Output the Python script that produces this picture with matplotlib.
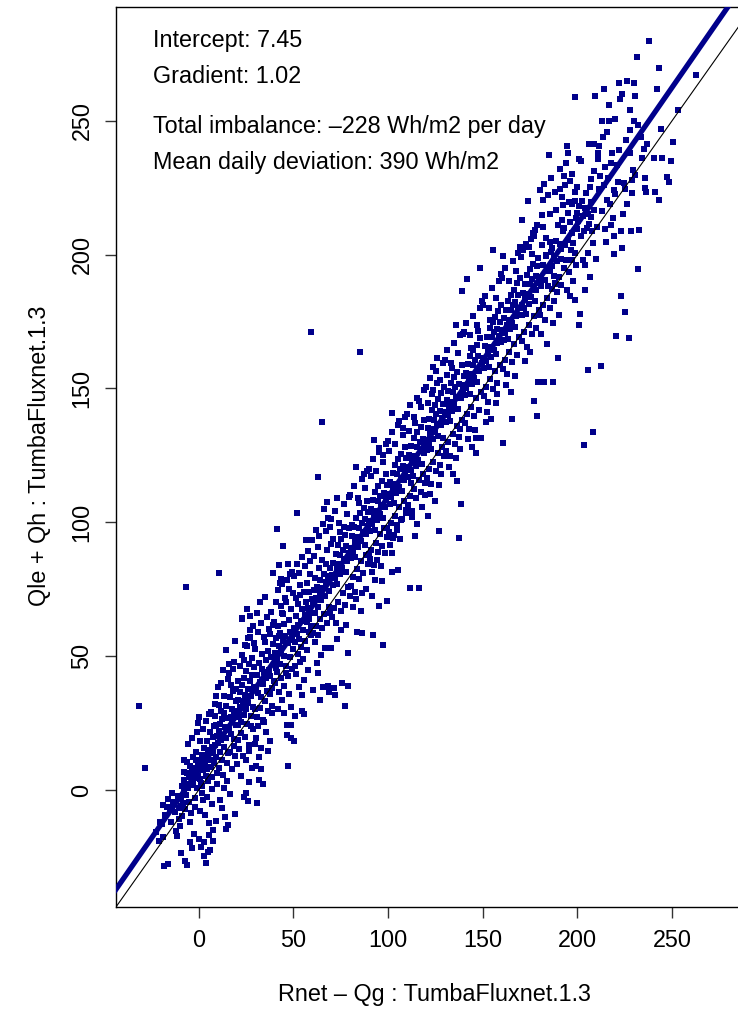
import numpy as np
import matplotlib.pyplot as plt

plt.rcParams['font.family'] = ['Liberation Sans', 'DejaVu Sans']

# regression summary
intercept = 7.45
gradient = 1.02
imbalance = -228
deviation = 390

# daily means (W/m2): available energy Rnet - Qg against turbulent flux Qle + Qh
rnet_qg_low = [
    -31.5, -28.2, -18.3, -16.0, -19.6, -17.0, -16.0, -11.5, -10.6, -22.4,
    -20.3, -19.1, -17.8, -15.2, -14.6, -13.4, -12.7, -12.1, -11.2, -10.4,
    -21.0, -14.0, -18.8,
    -9.1, -7.0, -6.2, -4.8, -2.5, -7.9, -1.5, -6.7, -9.6, -9.3,
    -8.8, -8.4, -8.0, -7.6, -7.3, -6.9, -6.5, -6.0, -5.7, -5.3,
    -5.0, -4.6, -4.2, -3.9, -3.5, -3.1, -2.8, -2.2, -1.9, -1.6,
    -1.2, -0.8, -0.5, -0.2, -9.8, -8.6, -5.5, -3.3, -1.0, -4.4,
    -2.0, -6.3, -7.8, -0.6, -3.7,
    0.2, 3.0, 4.8, 5.3, 7.5, 0.0, 5.5, 8.4, 0.4, 0.7,
    1.1, 1.4, 1.8, 2.1, 2.5, 2.8, 3.3, 3.6, 3.9, 4.3,
    4.6, 5.0, 5.8, 6.1, 6.4, 6.8, 7.1, 7.4, 7.8, 8.1,
    8.7, 9.0, 9.3, 9.6, 9.9, 0.9, 1.6, 2.3, 3.1, 4.0,
    4.9, 5.6, 6.6, 7.2, 8.0, 8.9, 9.5, 1.3, 2.7, 3.8,
    6.2, 7.7, 9.1, 0.5, 2.0, 4.4, 6.9, 8.5,
    15.7, 19.2, 14.0, 10.7, 10.2, 15.8, 14.4, 18.5, 19.3, 10.3,
    10.6, 11.0, 11.4, 11.7, 12.1, 12.4, 12.8, 13.1, 13.5, 13.8,
    14.2, 14.6, 15.0, 15.3, 16.1, 16.4, 16.8, 17.1, 17.5, 17.8,
    18.2, 18.8, 19.5, 19.8, 10.9, 11.9, 12.6, 13.3, 14.8, 15.5,
    16.6, 17.3, 18.0, 18.9, 19.6, 11.2, 12.3, 13.6, 15.1, 16.3,
    17.7, 19.0, 10.5, 13.0, 16.0, 18.4, 14.4, 11.6,
    22.9, 25.5, 27.0, 27.3, 25.4, 23.0, 20.2, 20.5, 20.9, 21.2,
    21.6, 22.0, 22.3, 22.7, 23.3, 23.7, 24.0, 24.4, 24.8, 25.1,
    25.8, 26.2, 26.5, 26.9, 27.6, 28.0, 28.3, 28.7, 29.0, 29.4,
    29.7, 20.7, 21.4, 22.5, 23.5, 24.6, 25.6, 26.7, 27.8, 28.9,
    29.9, 21.9, 23.1, 24.2, 26.0, 27.2, 28.5, 29.3, 20.1, 22.2,
    24.9, 26.4, 28.1, 29.6, 21.0, 23.9, 25.3, 27.5, 24.1, 26.8,
    25.0, 26.0,
    32.5, 35.0, 39.0, 30.8, 33.8, 32.0, 33.0, 30.2, 30.4, 30.9,
    31.3, 31.7, 32.2, 32.8, 33.3, 33.6, 34.1, 34.5, 34.9, 35.4,
    35.8, 36.2, 36.6, 37.0, 37.4, 37.8, 38.2, 38.6, 39.3, 39.7,
    30.6, 31.5, 32.6, 33.9, 35.2, 36.4, 37.6, 38.8, 39.9, 31.1,
    32.9, 34.3, 36.0, 37.2, 38.4, 39.5, 30.1, 33.1, 35.6, 37.9,
    31.9, 34.7, 36.8, 38.9, 30.7,
]
qle_qh_low = [
    31.5, 8.3, -28.4, -27.5, -12.8, -6.4, -3.2, -17.2, -10.8, -15.6,
    -12.1, -17.4, -9.2, -6.8, -11.9, -4.5, -8.3, -15.2, -2.1, -6.6,
    -19.0, -1.2, -5.5,
    -23.7, -26.5, -28.2, -19.6, -16.4, 11.2, 11.2, 75.8, -2.8, -6.1,
    1.4, -4.9, -0.3, 3.8, -7.2, 2.2, -1.7, 6.3, 0.9, -4.4,
    4.7, 9.1, -8.6, 1.8, 6.9, 3.1, 12.4, -2.9, 8.2, 4.6,
    14.1, 0.8, 9.7, 5.2, -13.3, -9.8, 17.2, 19.4, 21.8, -12.1,
    -6.4, 10.3, 6.8, 24.9, -21.5,
    -18.3, -24.7, -23.0, -16.8, -15.0, 27.3, 28.4, 32.0, 7.9, 4.2,
    10.8, 2.6, 13.1, 7.4, -3.8, 15.6, 9.2, 5.1, 12.8, 18.2,
    7.7, 14.9, 11.3, 21.5, 8.6, 16.2, 0.4, 13.7, 19.8, 10.1,
    16.9, 24.3, 12.5, 20.1, 6.2, -7.8, -1.2, 22.9, -9.5, 25.6,
    3.3, -12.4, 29.1, -5.3, 23.8, 35.0, 2.1, -21.2, -19.5, -27.1,
    -22.4, -18.9, -11.6, 18.4, 1.5, -2.6, 4.8, 27.6,
    -12.9, -9.0, -10.0, 81.0, 38.5, 43.7, 52.3, 48.0, 55.8, 17.6,
    21.9, 14.3, 24.8, 18.6, 26.4, 11.2, 20.3, 28.7, 16.1, 23.4,
    31.2, 19.5, 26.9, 13.8, 22.5, 34.6, 27.3, 20.8, 30.1, 25.7,
    36.9, 28.4, 33.2, 24.1, 8.4, 29.6, 5.7, 35.1, 10.2, 41.6,
    14.3, 39.2, 45.3, 19.1, 37.7, -3.6, -6.9, 0.8, 3.4, -1.5,
    7.9, 12.6, 31.6, 44.8, 47.2, 16.4, -14.6, 39.8,
    64.2, 67.6, 65.0, 57.0, 67.5, 64.0, 29.4, 24.1, 33.8, 27.2,
    36.5, 30.9, 25.3, 39.1, 33.4, 28.1, 41.8, 35.6, 30.2, 44.3,
    37.9, 32.4, 47.1, 40.6, 35.3, 49.2, 43.0, 31.1, 38.6, 45.9,
    52.7, 18.6, 15.2, 21.4, 12.8, 19.7, 24.5, 16.9, 27.8, 22.6,
    30.4, 46.5, 50.3, 54.2, 56.8, 59.6, 61.3, 55.0, 9.8, 5.4,
    11.3, 14.6, 8.2, 17.3, 40.9, 48.7, 53.8, 23.9, -2.5, 2.8,
    -1.0, -4.0,
    70.3, 72.2, 81.0, -4.9, 2.4, 3.7, 7.7, 9.0, 38.4, 43.1,
    36.2, 47.6, 40.3, 34.7, 45.2, 50.8, 39.5, 43.9, 55.3, 41.7,
    48.4, 36.8, 52.1, 45.0, 58.3, 42.6, 49.7, 38.1, 54.6, 47.2,
    27.3, 23.8, 30.5, 26.1, 33.2, 29.6, 35.8, 31.4, 40.7, 58.9,
    62.4, 57.0, 64.8, 60.2, 66.5, 61.7, 19.4, 15.7, 21.8, 18.3,
    12.2, 25.5, 14.6, 28.9, 66.1,
]

rnet_qg_mid = [
    42.4, 47.0, 42.9, 43.4, 48.0, 41.2, 44.7, 47.4, 46.4, 49.0,
    46.7, 48.6, 40.2, 40.6, 41.0, 41.5, 41.9, 42.2, 42.7, 43.1,
    43.7, 44.0, 44.4, 45.0, 45.3, 45.7, 46.1, 47.3, 47.7, 48.3,
    48.9, 49.3, 49.7, 40.4, 41.3, 42.5, 43.6, 44.8, 45.9, 46.9,
    48.1, 49.2, 40.9, 42.0, 43.3, 44.2, 45.5, 46.6, 47.8, 49.5,
    41.7, 43.9, 45.1, 47.5, 48.8, 40.0, 44.5, 46.3, 49.8, 42.6,
    50.3, 54.6, 55.8, 51.0, 52.0, 59.4, 50.5, 50.9, 51.3, 51.8,
    52.3, 52.7, 53.1, 53.5, 53.9, 54.3, 55.0, 55.4, 56.2, 56.6,
    57.0, 57.4, 57.8, 58.2, 58.6, 59.0, 59.7, 50.7, 51.6, 52.5,
    53.4, 54.1, 55.2, 56.0, 57.2, 58.4, 59.5, 50.1, 51.9, 53.0,
    54.8, 56.4, 57.6, 58.8, 52.9, 55.6, 57.9, 51.4, 53.7, 56.9,
    59.2, 54.4, 58.0,
    65.0, 63.2, 64.0, 65.5, 60.4, 68.5, 68.9, 60.3, 60.8, 61.2,
    61.6, 62.0, 62.4, 62.9, 63.4, 63.8, 64.3, 64.7, 65.2, 65.8,
    66.2, 66.6, 67.0, 67.4, 67.8, 68.2, 69.0, 69.5, 69.8, 60.6,
    61.4, 62.2, 63.0, 64.1, 65.3, 66.4, 67.5, 68.7, 69.6, 60.1,
    61.8, 63.6, 65.6, 67.2, 68.4, 69.3, 62.6, 64.5, 66.9, 61.1,
    63.1, 66.0, 68.0, 69.9, 62.8,
    77.3, 71.5, 71.8, 78.8, 75.9, 70.3, 70.7, 71.1, 72.0, 72.4,
    72.8, 73.2, 73.6, 74.0, 74.4, 74.8, 75.2, 75.6, 76.3, 76.7,
    77.1, 77.6, 78.0, 78.4, 79.2, 79.6, 70.5, 71.4, 72.6, 73.8,
    75.0, 76.1, 77.4, 78.6, 79.8, 70.1, 72.2, 74.2, 76.5, 78.2,
    79.4, 73.0, 75.4, 77.8, 71.0, 74.6, 76.9, 79.0, 72.9,
    86.5, 83.4, 86.1, 85.3, 80.3, 80.7, 81.1, 81.5, 81.9, 82.3,
    82.7, 83.1, 83.8, 84.2, 84.6, 85.0, 85.6, 86.0, 86.8, 87.2,
    87.6, 88.0, 88.4, 88.8, 89.2, 89.6, 80.5, 81.6, 82.5, 83.6,
    84.8, 85.9, 87.0, 88.2, 89.4, 80.1, 82.0, 84.0, 86.3, 87.8,
    89.0, 81.3, 83.3, 85.5, 88.6, 82.9, 84.4, 87.4, 89.8, 80.9,
    97.2, 92.2, 99.4, 95.2, 96.7, 91.7, 90.2, 90.6, 91.0, 91.4,
    92.0, 92.5, 92.9, 93.3, 93.7, 94.1, 94.5, 94.9, 95.6, 96.0,
    96.4, 97.0, 97.5, 97.9, 98.3, 98.7, 99.1, 99.7, 90.4, 91.2,
    92.4, 93.5, 94.7, 95.8, 96.9, 98.0, 99.2, 90.0, 91.9, 93.9,
    95.4, 97.6, 98.9, 91.5, 93.1, 94.3, 96.2, 98.5, 92.7, 95.0,
    97.3, 99.5, 90.8,
    102.0, 105.0, 102.1, 106.3, 100.4, 100.8, 101.2, 101.6, 102.4, 102.8,
    103.2, 103.6, 104.0, 104.4, 104.8, 105.3, 105.7, 106.1, 106.7, 107.1,
    107.5, 107.9, 108.3, 108.7, 109.1, 109.5, 100.6, 101.4, 102.6, 103.7,
    104.9, 106.0, 107.2, 108.4, 109.6, 100.1, 101.9, 103.9, 105.5, 107.7,
    108.9, 101.0, 103.3, 104.6, 106.9, 109.3, 102.2, 105.9, 108.1, 100.3,
    111.6, 116.4, 114.3, 110.3, 110.7, 111.1, 111.9, 112.3, 112.7, 113.1,
    113.5, 113.9, 114.7, 115.1, 115.5, 115.9, 116.8, 117.2, 117.6, 118.0,
    118.4, 118.8, 119.2, 119.6, 110.5, 111.4, 112.5, 113.6, 114.9, 116.1,
    117.3, 118.5, 119.7, 110.1, 111.8, 113.8, 115.4, 117.5, 118.9, 112.9,
    115.2, 117.9, 110.9, 114.0, 116.6, 119.4, 112.0,
]
qle_qh_mid = [
    84.0, 84.4, 77.5, 79.0, 80.7, 97.5, 91.3, 9.0, 24.3, 24.3,
    20.5, 19.5, 51.2, 45.6, 56.9, 49.3, 61.2, 53.8, 47.1, 58.6,
    52.4, 66.3, 55.7, 50.1, 62.0, 57.4, 70.2, 54.9, 63.5, 59.1,
    67.8, 56.2, 73.6, 39.8, 44.2, 36.5, 41.9, 38.7, 46.3, 42.5,
    49.8, 45.2, 70.4, 74.6, 68.8, 76.9, 71.7, 78.3, 75.1, 81.5,
    30.2, 33.6, 28.7, 35.9, 31.1, 62.8, 65.9, 43.8, 52.6, 57.7,
    18.3, 29.5, 28.4, 27.5, 103.4, 171.1, 60.4, 55.2, 64.9, 58.1,
    69.3, 61.5, 56.4, 72.7, 63.2, 67.8, 59.6, 74.1, 65.5, 70.3,
    62.7, 77.4, 68.1, 73.9, 66.2, 80.6, 71.2, 46.2, 43.5, 50.8,
    47.9, 53.4, 49.1, 55.7, 52.3, 58.9, 61.4, 79.8, 84.5, 81.2,
    86.9, 83.7, 89.3, 85.5, 38.6, 41.2, 44.8, 71.9, 76.6, 93.4,
    58.0, 35.4, 63.8,
    137.6, 116.8, 33.6, 38.5, 37.2, 38.8, 36.5, 70.1, 74.8, 66.3,
    79.2, 71.6, 76.0, 68.4, 82.9, 73.5, 78.6, 70.9, 86.1, 75.3,
    80.7, 72.6, 84.4, 77.8, 89.6, 79.9, 74.2, 83.0, 91.8, 58.5,
    55.3, 61.1, 57.9, 63.7, 60.4, 65.9, 62.5, 68.2, 66.0, 93.5,
    97.1, 95.0, 99.2, 96.6, 101.7, 98.3, 47.4, 50.6, 53.2, 87.3,
    90.6, 104.8, 107.5, 52.9, 43.6,
    31.4, 38.0, 35.5, 39.0, 39.9, 80.2, 76.5, 84.8, 79.3, 88.1,
    82.6, 77.0, 91.4, 84.3, 80.7, 87.9, 93.6, 83.1, 89.8, 86.2,
    95.4, 81.6, 91.1, 85.7, 97.8, 88.5, 64.6, 67.9, 62.3, 70.4,
    66.8, 73.6, 69.1, 75.9, 72.4, 101.3, 104.2, 99.7, 106.8, 103.1,
    109.5, 56.4, 59.8, 61.7, 93.9, 96.5, 98.2, 51.3, 108.9,
    58.6, 58.9, 73.7, 163.6, 90.4, 86.7, 94.9, 89.3, 98.2, 92.6,
    87.1, 101.5, 94.4, 90.8, 97.9, 103.6, 93.2, 99.9, 96.3, 105.5,
    91.7, 101.2, 95.8, 108.0, 98.6, 103.9, 76.3, 79.7, 74.1, 82.4,
    78.8, 85.6, 81.2, 87.9, 84.5, 110.1, 113.6, 109.0, 116.3, 112.7,
    119.2, 68.2, 71.5, 66.9, 75.0, 120.8, 107.3, 117.9, 88.0, 99.0,
    54.2, 57.9, 70.6, 68.8, 78.0, 72.5, 100.5, 96.8, 104.9, 99.4,
    108.2, 102.6, 97.1, 111.4, 104.4, 100.9, 108.0, 113.6, 103.2, 109.9,
    106.3, 115.5, 101.7, 111.1, 105.8, 118.0, 108.6, 113.9, 86.3, 89.7,
    84.1, 92.4, 88.8, 95.6, 91.2, 97.9, 94.5, 120.1, 123.6, 119.0,
    126.3, 122.7, 129.2, 81.5, 78.3, 85.9, 83.7, 88.6, 130.8, 127.7,
    125.1, 98.0, 117.3,
    88.4, 82.2, 81.3, 93.8, 110.7, 106.9, 115.0, 109.5, 118.3, 112.7,
    107.2, 121.5, 114.5, 111.0, 118.1, 123.7, 113.3, 120.0, 116.4, 125.6,
    111.8, 121.2, 115.9, 128.1, 118.7, 124.0, 96.4, 99.8, 94.2, 102.5,
    98.9, 105.7, 101.3, 108.0, 104.6, 130.2, 133.7, 129.1, 136.4, 132.8,
    139.3, 91.6, 95.2, 97.0, 100.8, 103.4, 141.0, 137.8, 135.2, 126.5,
    75.6, 75.3, 95.0, 120.6, 116.9, 125.1, 119.5, 128.4, 122.8, 117.2,
    131.6, 124.6, 121.0, 128.2, 133.8, 123.4, 130.1, 126.5, 135.7, 121.9,
    131.3, 126.0, 138.2, 128.8, 106.3, 109.7, 104.2, 112.5, 108.9, 115.7,
    111.3, 118.0, 114.6, 140.3, 143.8, 139.2, 146.5, 142.9, 149.4, 101.8,
    99.5, 105.6, 134.0, 137.1, 145.3, 110.2, 114.8,
]

rnet_qg_high = [
    127.0, 120.2, 120.6, 121.0, 121.4, 121.8, 122.2, 122.6, 123.0, 123.4,
    123.8, 124.2, 124.6, 125.0, 125.4, 125.8, 126.2, 126.6, 127.4, 127.8,
    128.2, 128.6, 129.0, 129.4, 129.8, 120.4, 121.5, 122.7, 123.9, 125.1,
    126.3, 127.5, 128.7, 129.6, 120.0, 121.9, 123.6, 125.5, 127.2, 128.9,
    122.4, 124.8, 126.9, 120.9, 123.2, 125.9, 128.1, 121.2, 124.0, 126.0,
    129.2,
    137.3, 138.0, 136.6, 138.4, 139.2, 130.3, 130.7, 131.1, 131.5, 131.9,
    132.3, 132.7, 133.1, 133.5, 133.9, 134.3, 134.7, 135.1, 135.5, 135.9,
    136.3, 137.0, 137.7, 138.7, 139.1, 139.5, 139.9, 130.5, 131.7, 132.9,
    134.1, 135.3, 136.5, 137.5, 138.9, 130.1, 131.3, 133.3, 134.9, 136.9,
    138.2, 132.1, 134.5, 136.1, 139.6, 131.0, 133.7, 135.7, 137.9,
    146.3, 141.9, 148.8, 149.1, 146.4, 140.2, 140.6, 141.0, 141.4, 142.3,
    142.7, 143.1, 143.5, 143.9, 144.3, 144.7, 145.1, 145.5, 145.9, 146.8,
    147.2, 147.6, 148.0, 148.4, 149.5, 140.4, 141.6, 142.8, 144.0, 145.2,
    146.6, 147.8, 149.0, 140.0, 141.2, 143.3, 145.0, 147.0, 148.6, 142.0,
    144.5, 146.0, 149.8, 143.7, 147.4,
    152.0, 155.5, 150.3, 150.7, 151.1, 151.5, 152.4, 152.8, 153.2, 153.6,
    154.0, 154.4, 154.8, 155.2, 155.8, 156.2, 156.6, 157.0, 157.4, 157.8,
    158.2, 158.6, 159.0, 159.4, 159.8, 150.5, 151.7, 152.9, 154.1, 155.3,
    156.5, 157.7, 158.9, 150.1, 151.3, 153.4, 155.0, 157.1, 158.7, 152.2,
    154.6, 156.9, 159.6, 153.8, 157.3,
    160.5, 165.4, 160.9, 160.3, 161.1, 161.5, 161.9, 162.3, 162.7, 163.1,
    163.5, 163.9, 164.3, 164.7, 165.1, 165.7, 166.1, 166.5, 166.9, 167.3,
    167.7, 168.1, 168.5, 168.9, 169.3, 169.7, 160.7, 161.7, 162.9, 164.1,
    165.3, 166.7, 167.9, 169.1, 160.2, 162.0, 163.7, 165.9, 167.5, 168.7,
    162.5, 164.9, 167.0, 169.5,
    173.7, 170.8, 178.9, 177.7, 177.1, 176.2, 170.3, 177.0, 178.6, 179.0,
    170.5, 171.0, 171.4, 171.8, 172.2, 172.6, 173.0, 173.4, 174.0, 174.4,
    174.8, 175.2, 175.6, 176.0, 176.6, 177.4, 178.0, 178.4, 179.4, 179.8,
    170.7, 171.9, 173.2, 174.6, 175.8, 177.2, 178.2, 179.6, 171.2, 172.8,
    174.2, 175.4, 176.8, 178.8, 172.4, 175.0,
    181.6, 181.1, 185.3, 181.7, 189.8, 188.9, 183.5, 185.4, 181.4, 186.0,
    183.6, 184.9, 189.7, 187.0, 182.5, 180.3, 180.7, 182.0, 182.8, 183.2,
    184.0, 184.4, 185.8, 186.4, 186.8, 187.4, 187.8, 188.2, 188.6, 189.3,
    180.5, 181.9, 183.0, 184.2, 185.6, 186.6, 187.6, 188.4, 189.5, 180.1,
    182.2, 184.6, 186.2, 188.0, 180.9, 183.9, 187.2,
    194.3, 194.8, 192.8, 196.0, 190.6, 191.9, 192.4, 195.7, 197.0, 198.8,
    198.6, 192.5, 190.7, 194.1, 198.9, 196.1, 198.5, 190.4, 191.1, 191.5,
    193.0, 193.4, 193.8, 195.2, 195.9, 196.6, 197.4, 197.8, 199.2, 199.6,
    190.2, 191.3, 193.2, 194.6, 195.4, 196.9, 197.6, 199.0, 199.8, 190.9,
    192.0, 193.6, 195.0, 197.2, 199.4,
    201.0, 202.0, 206.6, 200.0, 200.6, 205.0, 207.8, 209.6, 206.4, 208.7,
    209.4, 205.4, 203.3, 208.3, 200.8, 201.4, 200.3, 201.7, 202.4, 203.0,
    203.6, 204.0, 204.5, 205.8, 206.2, 207.0, 207.4, 208.0, 209.0, 202.8,
    204.2, 205.6, 207.2, 208.6, 203.8, 206.9,
    210.9, 211.5, 211.6, 211.0, 213.2, 216.7, 215.4, 213.6, 216.9, 217.7,
    219.5, 219.9, 210.5, 217.8, 219.4, 219.6, 218.6, 212.3, 212.0, 214.2,
    214.8, 215.9, 216.3, 218.2, 212.8, 214.6, 217.2, 213.9, 215.0,
    222.0, 226.4, 223.6, 222.6, 228.0, 227.7, 220.1, 222.2, 227.6, 228.6,
    221.3, 224.8, 225.0, 228.7, 223.1, 223.7, 228.5, 223.0, 224.9, 220.4,
    227.3, 221.0, 225.6, 226.2, 229.3, 224.2,
    230.0, 230.4, 231.6, 238.0, 230.1, 231.8, 235.0, 235.8, 230.6, 236.3,
    235.6, 232.7, 232.2, 233.4, 234.1, 237.0,
    243.0, 242.0, 262.5, 253.0, 244.0, 250.5, 240.7, 244.5, 249.3, 247.5,
    248.4, 241.2, 243.2,
]
qle_qh_high = [
    96.6, 130.8, 127.1, 135.3, 129.7, 138.6, 133.0, 127.4, 141.8, 134.8,
    131.2, 138.4, 144.0, 133.6, 140.3, 136.7, 145.9, 132.1, 141.5, 136.2,
    148.4, 139.0, 144.2, 137.5, 150.6, 116.4, 119.8, 114.3, 122.6, 119.0,
    125.8, 121.4, 128.1, 124.7, 150.5, 154.0, 149.4, 156.7, 153.1, 159.6,
    110.5, 107.8, 113.9, 144.6, 147.9, 152.0, 118.0, 102.3, 158.1, 161.2,
    131.4,
    94.0, 127.4, 115.3, 107.0, 186.6, 141.1, 137.4, 145.6, 140.0, 148.9,
    143.3, 137.7, 152.1, 145.1, 141.5, 148.7, 154.3, 143.9, 150.6, 147.0,
    156.2, 142.4, 151.8, 146.5, 158.7, 149.3, 154.5, 126.7, 130.1, 124.6,
    132.9, 129.3, 136.1, 131.7, 138.4, 160.8, 164.3, 159.7, 167.0, 163.4,
    169.9, 120.8, 118.1, 124.2, 170.5, 155.0, 157.6, 173.8, 135.0,
    125.8, 190.8, 194.9, 131.4, 131.4, 151.3, 147.6, 155.8, 150.2, 159.1,
    153.5, 147.9, 162.3, 155.3, 151.7, 158.9, 164.5, 154.1, 160.8, 166.4,
    152.6, 162.0, 156.7, 168.9, 159.5, 137.0, 140.4, 134.9, 143.2, 139.6,
    146.4, 142.0, 148.7, 171.0, 174.5, 169.9, 177.2, 173.6, 180.1, 131.0,
    128.3, 134.4, 182.7, 165.2, 171.3,
    137.6, 201.7, 161.5, 157.8, 166.0, 160.4, 169.3, 163.7, 158.1, 172.5,
    165.5, 161.9, 169.1, 174.7, 164.3, 171.0, 176.6, 162.8, 172.2, 166.9,
    179.1, 169.7, 174.9, 167.3, 181.0, 147.2, 150.6, 145.1, 153.4, 149.8,
    156.6, 152.2, 158.9, 181.2, 184.7, 180.1, 187.4, 183.8, 190.3, 141.2,
    138.5, 144.6, 192.6, 175.4, 148.0,
    199.5, 138.5, 129.5, 171.7, 168.0, 176.2, 170.6, 179.5, 173.9, 168.3,
    182.7, 175.7, 172.1, 179.3, 184.9, 174.5, 181.2, 186.8, 173.0, 182.4,
    177.1, 189.3, 179.9, 185.1, 177.5, 191.2, 157.4, 160.8, 155.3, 163.6,
    160.0, 166.8, 162.4, 169.1, 191.4, 194.9, 190.3, 197.6, 194.0, 200.5,
    151.4, 148.7, 154.8, 202.8,
    219.9, 213.1, 211.2, 209.3, 206.8, 200.4, 199.2, 145.5, 139.7, 152.5,
    181.3, 177.6, 185.8, 180.2, 189.1, 183.5, 177.9, 192.3, 185.3, 181.7,
    188.9, 194.5, 184.1, 190.8, 196.4, 182.6, 192.0, 186.7, 198.9, 189.5,
    167.6, 171.0, 165.5, 173.8, 170.2, 177.0, 172.6, 179.3, 201.6, 204.1,
    203.0, 205.8, 208.2, 195.7, 160.3, 163.8,
    220.5, 214.8, 215.1, 210.5, 211.2, 216.7, 206.1, 204.9, 203.6, 201.0,
    199.7, 237.4, 161.4, 152.5, 152.5, 191.8, 188.1, 196.3, 190.7, 199.6,
    194.0, 188.4, 193.8, 202.6, 195.8, 192.2, 199.4, 189.0, 205.0, 197.5,
    177.6, 181.0, 175.5, 183.8, 180.2, 187.0, 182.6, 189.3, 185.9, 224.1,
    226.5, 222.3, 228.7, 223.4, 170.3, 166.8, 174.4,
    240.6, 238.0, 229.4, 227.6, 224.4, 221.4, 218.6, 219.8, 219.0, 220.2,
    223.4, 208.7, 203.8, 234.2, 259.0, 184.4, 183.1, 177.4, 202.0, 198.3,
    210.1, 203.5, 198.0, 205.4, 212.3, 201.8, 208.0, 204.4, 213.8, 209.6,
    191.5, 188.6, 195.1, 186.7, 193.6, 197.9, 190.1, 200.5, 215.7, 232.1,
    212.8, 226.0, 215.4, 230.3, 196.2,
    235.7, 234.9, 225.2, 225.2, 218.0, 210.0, 208.7, 198.4, 241.3, 241.3,
    259.4, 157.0, 129.0, 133.6, 173.6, 178.0, 212.4, 206.8, 220.1, 214.5,
    209.0, 217.6, 222.9, 215.2, 211.3, 219.8, 213.9, 204.3, 216.6, 198.1,
    196.0, 200.7, 228.2, 231.4, 186.9, 191.5,
    235.7, 224.4, 240.6, 238.0, 250.0, 250.0, 245.7, 243.8, 256.0, 234.2,
    224.0, 222.7, 210.5, 211.2, 206.8, 200.4, 213.8, 158.5, 229.3, 226.1,
    232.8, 220.4, 228.6, 237.9, 216.2, 209.4, 218.9, 262.0, 204.6,
    264.0, 265.0, 260.0, 258.0, 254.0, 246.6, 250.8, 239.0, 238.0, 228.0,
    227.2, 226.6, 224.4, 223.0, 208.7, 202.5, 208.7, 184.4, 178.6, 169.7,
    168.7, 233.5, 242.8, 219.0, 231.6, 215.3,
    264.0, 259.4, 274.0, 279.8, 250.0, 248.5, 239.6, 228.5, 229.7, 223.4,
    225.0, 209.3, 194.6, 244.0, 236.2, 241.5,
    269.7, 262.0, 267.0, 254.0, 247.0, 241.9, 236.0, 236.0, 234.9, 229.0,
    227.0, 223.4, 220.5,
]

x = np.array(rnet_qg_low + rnet_qg_mid + rnet_qg_high)
y = np.array(qle_qh_low + qle_qh_mid + qle_qh_high)

W, H = 738, 1009
fig = plt.figure(figsize=(W / 100, H / 100), dpi=100)
# plot region runs a little past the right edge of the page
ax = fig.add_axes([115.5 / W, 1 - 906.7 / H, (752.5 - 115.5) / W, (906.7 - 6.5) / H])

navy = '#00008B'
ax.scatter(x, y, s=16, marker='s', color=navy, linewidths=0, zorder=2)
ax.axline((0, intercept), slope=gradient, color=navy, lw=3.8, zorder=3)
ax.axline((0, 0), slope=1, color='black', lw=0.8, zorder=4)

ax.set_xlim(-43.95, 292.5)
ax.set_ylim(-43.6, 292.7)
ax.set_xticks(range(0, 251, 50))
ax.set_yticks(range(0, 251, 50))
ax.tick_params(length=7.9, width=1, labelsize=16.8, pad=8, color='#333333')
for lab in ax.get_yticklabels():
    lab.set_rotation(90)
    lab.set_va('center')
for sp in ax.spines.values():
    sp.set_linewidth(1.0)

fig.text(434 / W, 1 - 995 / H, 'Rnet \u2013 Qg : TumbaFluxnet.1.3',
         fontsize=16.8, ha='center', va='center')
fig.text(40 / W, 1 - 456 / H, 'Qle + Qh : TumbaFluxnet.1.3',
         fontsize=16.8, ha='center', va='center', rotation=90)

fig.text(153 / W, 1 - 46.5 / H, f'Intercept: {intercept}', fontsize=16.8, va='baseline')
fig.text(153 / W, 1 - 83.3 / H, f'Gradient: {gradient}', fontsize=16.8, va='baseline')
fig.text(153 / W, 1 - 133.3 / H, f'Total imbalance: \u2013{abs(imbalance)} Wh/m2 per day',
         fontsize=16.8, va='baseline')
fig.text(153 / W, 1 - 169.5 / H, f'Mean daily deviation: {deviation} Wh/m2',
         fontsize=16.8, va='baseline')

fig.savefig('out.png', dpi=100)
